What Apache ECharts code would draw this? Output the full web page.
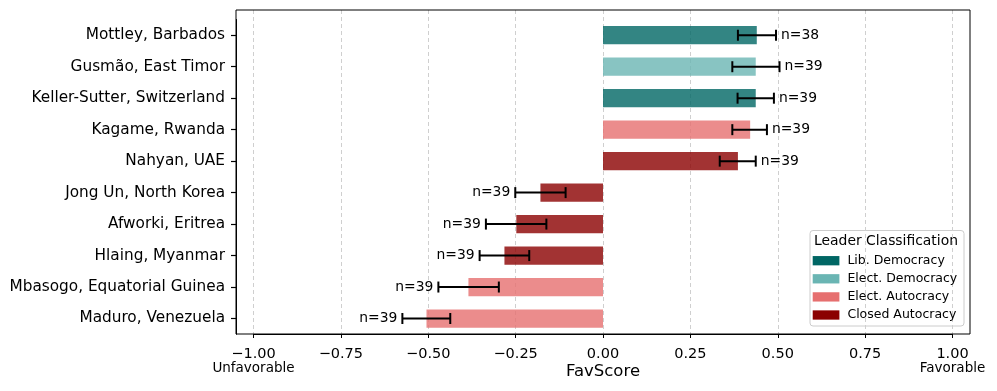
<!DOCTYPE html>
<html>
<head>
<meta charset="utf-8">
<script src="https://cdn.jsdelivr.net/npm/echarts@6/dist/echarts.min.js"></script>
<style>
    html, body { margin: 0; padding: 0; background: #fff; }
    #fav_chart { width: 997px; height: 391px; }
</style>
</head>
<body>
<div id="fav_chart"></div>
<script>

// Data
// ------------------------------

var leaders = [
    'Mottley, Barbados', 'Gusmão, East Timor', 'Keller-Sutter, Switzerland',
    'Kagame, Rwanda', 'Nahyan, UAE', 'Jong Un, North Korea', 'Afworki, Eritrea',
    'Hlaing, Myanmar', 'Mbasogo, Equatorial Guinea', 'Maduro, Venezuela'
];
var leaderClass = [
    'Lib. Democracy', 'Elect. Democracy', 'Lib. Democracy', 'Elect. Autocracy',
    'Closed Autocracy', 'Closed Autocracy', 'Closed Autocracy', 'Closed Autocracy',
    'Elect. Autocracy', 'Elect. Autocracy'
];
var favScore = [0.440, 0.437, 0.437, 0.421, 0.386, -0.179, -0.248, -0.282, -0.385, -0.505];
var errLow = [0.386, 0.370, 0.385, 0.370, 0.334, -0.251, -0.335, -0.353, -0.471, -0.574];
var errHigh = [0.495, 0.505, 0.489, 0.469, 0.437, -0.107, -0.162, -0.211, -0.298, -0.437];
var sampleSize = [38, 39, 39, 39, 39, 39, 39, 39, 39, 39];
var classNames = ['Lib. Democracy', 'Elect. Democracy', 'Elect. Autocracy', 'Closed Autocracy'];
var endLabels = ['Unfavorable', 'Favorable'];

// Styles
var classColors = ['#006664', '#6ab5b3', '#e66f6f', '#8b0000'];
var font = 'DejaVu Sans';

// Layout of the axes frame (pixels)
var frame = { left: 236, top: 10, width: 734, height: 324 };
var pad = frame.width * 0.05 / 2.1;
var plotLeft = frame.left + pad;
var plotWidth = frame.width - 2 * pad;

var chart = echarts.init(document.getElementById('fav_chart'));

// Bars, one series per class
var barSeries = classNames.map(function(name, k) {
    return {
        name: name,
        type: 'bar',
        xAxisIndex: 2,
        yAxisIndex: 2,
        barWidth: '58%',
        barGap: '-100%',
        z: 2,
        itemStyle: { color: classColors[k], opacity: 0.8 },
        data: favScore.map(function(v, i) {
            return leaderClass[i] === name ? v : '-';
        })
    };
});

// Error bars with n labels
var errData = leaders.map(function(name, i) {
    return [i, errLow[i], errHigh[i], sampleSize[i], favScore[i]];
});

var errSeries = {
    type: 'custom',
    xAxisIndex: 2,
    yAxisIndex: 2,
    z: 3,
    silent: true,
    data: errData,
    encode: { x: [1, 2], y: 0 },
    renderItem: function(params, api) {
        var idx = api.value(0);
        var lo = api.coord([api.value(1), idx]);
        var hi = api.coord([api.value(2), idx]);
        var y = lo[1];
        var cap = 5.5;
        var stroke = { stroke: '#000', lineWidth: 2 };
        var positive = api.value(4) >= 0;
        return {
            type: 'group',
            children: [
                { type: 'line', shape: { x1: lo[0], y1: y, x2: hi[0], y2: y }, style: stroke },
                { type: 'line', shape: { x1: lo[0], y1: y - cap, x2: lo[0], y2: y + cap }, style: stroke },
                { type: 'line', shape: { x1: hi[0], y1: y - cap, x2: hi[0], y2: y + cap }, style: stroke },
                {
                    type: 'text',
                    x: positive ? hi[0] + 5 : lo[0] - 5,
                    y: y,
                    style: {
                        text: 'n=' + api.value(3),
                        fill: '#000',
                        font: '13.9px "' + font + '"',
                        textAlign: positive ? 'left' : 'right',
                        textVerticalAlign: 'middle'
                    }
                }
            ]
        };
    }
};

chart.setOption({
    animation: false,
    textStyle: { fontFamily: font },

    // Grids: frame, ticks + gridlines, data
    grid: [
        {
            left: frame.left, top: frame.top, width: frame.width, height: frame.height,
            show: true, borderColor: '#000', borderWidth: 1, backgroundColor: 'transparent', z: 1
        },
        { left: plotLeft, top: frame.top, width: plotWidth, height: frame.height },
        { left: plotLeft, top: 19.5, width: plotWidth, height: 314.75 }
    ],

    xAxis: [
        { gridIndex: 0, type: 'value', show: false, min: 0, max: 1 },
        {
            gridIndex: 1,
            type: 'value',
            min: -1,
            max: 1,
            interval: 0.25,
            position: 'bottom',
            axisLine: { show: true, onZero: false, lineStyle: { color: '#000', width: 1 } },
            axisTick: { show: true, inside: false, length: 4, lineStyle: { color: '#000', width: 1 } },
            axisLabel: {
                margin: 13,
                color: '#000',
                fontSize: 14.5,
                lineHeight: 15,
                formatter: function(value) {
                    var s = (value < 0 ? '\u2212' : '') + Math.abs(value).toFixed(2);
                    if (value === -1) return s + '\n{b|' + endLabels[0] + '}';
                    if (value === 1) return s + '\n{b|' + endLabels[1] + '}';
                    return s;
                },
                rich: {
                    b: { fontSize: 13.5, lineHeight: 13, color: '#000', fontFamily: font }
                }
            },
            splitLine: {
                show: true,
                lineStyle: { color: '#cfcfcf', type: [4, 3], width: 1 }
            },
            name: 'FavScore',
            nameLocation: 'middle',
            nameGap: 29,
            nameMoveOverlap: false,
            nameTextStyle: { fontSize: 16.5, color: '#000', fontFamily: font }
        },
        { gridIndex: 2, type: 'value', show: false, min: -1, max: 1 }
    ],

    yAxis: [
        { gridIndex: 0, type: 'value', show: false, min: 0, max: 1 },
        { gridIndex: 1, type: 'value', show: false, min: 0, max: 1 },
        {
            gridIndex: 2,
            type: 'category',
            data: leaders,
            inverse: true,
            offset: pad,
            axisLine: { show: true, onZero: false, lineStyle: { color: '#000', width: 1 } },
            axisTick: { show: true, inside: false, alignWithLabel: true, length: 5, lineStyle: { color: '#000', width: 1.2 } },
            axisLabel: { color: '#000', fontSize: 15.3, margin: 11 },
            splitLine: { show: false }
        }
    ],

    // Legend box and title
    graphic: [
        {
            type: 'group',
            z: 3,
            children: [
                {
                    type: 'rect',
                    shape: { x: 810, y: 230.5, width: 154, height: 95.5, r: 3 },
                    style: { fill: 'rgba(255,255,255,0.85)', stroke: '#cccccc', lineWidth: 1 }
                },
                {
                    type: 'text',
                    x: 886,
                    y: 241.7,
                    style: {
                        text: 'Leader Classification',
                        fill: '#000',
                        font: '13.9px "' + font + '"',
                        textAlign: 'center',
                        textVerticalAlign: 'middle'
                    }
                }
            ]
        }
    ],

    legend: {
        orient: 'vertical',
        left: 812.7,
        top: 253.7,
        padding: 0,
        z: 4,
        selectedMode: false,
        icon: 'rect',
        itemWidth: 26.7,
        itemHeight: 9.3,
        itemGap: 4.1,
        itemStyle: { opacity: 1 },
        textStyle: { fontSize: 12.5, lineHeight: 14, color: '#000', fontFamily: font, padding: [0, 0, 0, 3] },
        data: classNames.map(function(name, k) {
            return { name: name, itemStyle: { color: classColors[k], opacity: 1 } };
        })
    },

    series: barSeries.concat([errSeries])
});

</script>
</body>
</html>
